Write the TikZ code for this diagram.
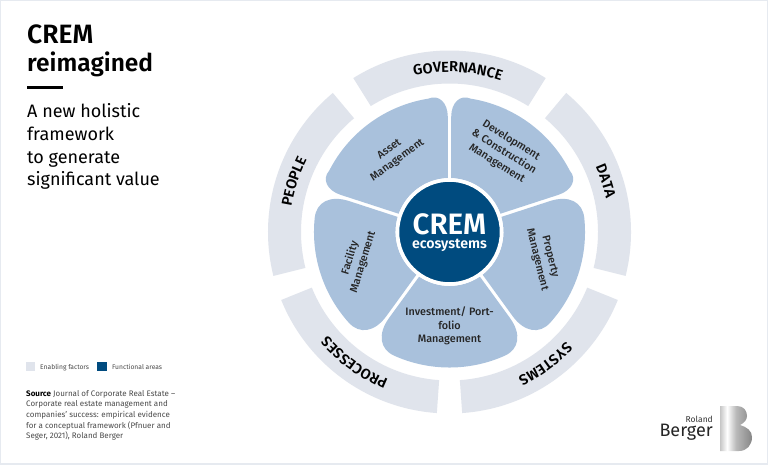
\documentclass[tikz,border=0pt]{standalone}
\usepackage{fontspec}
\setmainfont{Fira Sans}
\newfontfamily\medfont{Fira Sans Medium}
\newfontfamily\semifont{Fira Sans SemiBold}
\usetikzlibrary{decorations.text}
\definecolor{ringgray}{HTML}{E0E4EC}
\definecolor{petalblue}{HTML}{A9C1DC}
\definecolor{crelblue}{HTML}{004B7F}
\definecolor{edgegray}{HTML}{E6EAF0}
\definecolor{sourcegray}{HTML}{4A4A4A}
\pgfdeclarehorizontalshading{bshade}{100bp}{color(0bp)=(gray!45); color(25bp)=(gray!45); color(36bp)=(white); color(50bp)=(gray!55); color(75bp)=(gray!95); color(100bp)=(gray!95)}
\tikzset{
	ringseg/.style={fill=ringgray},
	petal/.style={fill=petalblue},
	petaltext/.style={align=center,font=\fontsize{10.8}{13.5}\selectfont\medfont,text=black!85},
	leftnote/.style={anchor=base west,inner sep=0pt},
	ringtext/.style={decorate,decoration={text along path,text align=center,text={|\fontsize{14.5}{15}\selectfont\semifont|#1}}}
}
\newcommand{\ringpart}[2]{\fill[ringseg] (#1:181.5) arc[start angle=#1,end angle=#2,radius=181.5] -- (#2:148.5) arc[start angle=#2,end angle=#1,radius=148.5] -- cycle;}
\newcommand{\lowpetal}[1]{\fill[petal,rotate=#1] (44.7,30.4) -- (85.9,60.4) .. controls (102.1,72.2) and (117.3,69.7) .. (123.8,55.1) arc[start angle=24,end angle=-24,radius=135.5] .. controls (117.3,-69.7) and (102.1,-72.2) .. (85.9,-60.4) -- (44.7,-30.4) arc[start angle=-34.2,end angle=34.2,radius=54] -- cycle;}
\newcommand{\highpetal}[1]{\fill[petal,rotate=#1] (44.7,30.4) -- (94,66.2) .. controls (106,75) and (118,72) .. (120.3,61.3) arc[start angle=27,end angle=-27,radius=135] .. controls (118,-72) and (106,-75) .. (94,-66.2) -- (44.7,-30.4) arc[start angle=-34.2,end angle=34.2,radius=54] -- cycle;}
\begin{document}
\begin{tikzpicture}[x=1pt,y=1pt]
	\useasboundingbox (0,0) rectangle (768,464);
	\fill[white] (0,0) rectangle (768,464);
	\draw[edgegray,line width=1.5pt] (0,0) rectangle (768,464);
	% ring and petals
	\begin{scope}[shift={(449.5,232)}]
		\ringpart{122}{58}
		\ringpart{50}{-14}
		\ringpart{-22}{-86}
		\ringpart{-94}{-158}
		\ringpart{194}{130}
		\path[ringtext=GOVERNANCE] (119:160) arc[start angle=119,end angle=55,radius=160];
		\path[ringtext=DATA] (50:160) arc[start angle=50,end angle=-14,radius=160];
		\path[ringtext=SYSTEMS] (-22:160) arc[start angle=-22,end angle=-86,radius=160];
		\path[ringtext=PROCESSES] (-94:160) arc[start angle=-94,end angle=-158,radius=160];
		\path[ringtext=PEOPLE] (194:160) arc[start angle=194,end angle=130,radius=160];
		\highpetal{126}
		\highpetal{54}
		\lowpetal{-18}
		\lowpetal{-90}
		\lowpetal{198}
		\node[circle,fill=crelblue,draw=white,line width=3.5pt,minimum size=104pt,inner sep=0pt] (hub) at (0,0) {};
		\node[text=white,font=\fontsize{29.5}{30}\selectfont\semifont,inner sep=0pt] (hubtop) at (0,8) {CREM};
		\node[text=white,font=\fontsize{14.2}{15}\selectfont\semifont,inner sep=0pt] (hubbottom) at (0,-13.5) {ecosystems};
		\node[petaltext,rotate=36] (asset) at (-56,77) {Asset\\Management};
		\node[petaltext,rotate=-32] (develop) at (54.5,80) {Development\\\& Construction\\Management};
		\node[petaltext,rotate=-76] (property) at (94,-26) {Property\\Management};
		\node[petaltext,rotate=73] (facility) at (-93,-28) {Facility\\Management};
		\node[petaltext] (invest) at (0,-94) {Investment/ Port-\\folio\\Management};
	\end{scope}
	% left column
	\node[leftnote,font=\fontsize{26.5}{27}\selectfont\semifont] (title) at (27,420) {CREM};
	\node[leftnote,font=\fontsize{24.5}{25}\selectfont\semifont] (titleb) at (27,392) {reimagined};
	\fill[black] (27,374.5) rectangle (63,377.5);
	\node[leftnote,font=\fontsize{18}{18}\selectfont] (suba) at (27,346) {A new holistic};
	\node[leftnote,font=\fontsize{18}{18}\selectfont] (subb) at (27,323) {framework};
	\node[leftnote,font=\fontsize{18}{18}\selectfont] (subc) at (27,300.5) {to generate};
	\node[leftnote,font=\fontsize{18}{18}\selectfont] (subd) at (27,278) {significant value};
	% legend
	\fill[ringgray] (26,93) rectangle (35,102);
	\node[leftnote,font=\fontsize{6.7}{7}\selectfont,text=sourcegray] (enabling) at (40,94.5) {Enabling factors};
	\fill[crelblue] (97,93) rectangle (107,102);
	\node[leftnote,font=\fontsize{6.7}{7}\selectfont,text=sourcegray] (functional) at (112,94.5) {Functional areas};
	\node[anchor=north west,inner sep=0pt,align=left,text=sourcegray,font=\fontsize{8}{10.6}\selectfont] (source) at (26,74) {\textcolor{black}{\bfseries Source} Journal of Corporate Real Estate --\\Corporate real estate management and\\companies' success: empirical evidence\\for a conceptual framework (Pfnuer and\\Seger, 2021), Roland Berger};
	% logo
	\node[anchor=base east,inner sep=0pt,font=\fontsize{8.5}{9}\selectfont,text=black!80] (roland) at (713,42) {Roland};
	\node[anchor=base east,inner sep=0pt,font=\fontsize{18}{18}\selectfont,text=black!85] (berger) at (713,27.5) {Berger};
	\shade[shading=bshade] (720,58) -- (737,58) .. controls (744,58) and (747,53) .. (747,48) .. controls (747,44) and (744,41) .. (740,39) .. controls (747,37) and (752,33) .. (752,27) .. controls (752,19) and (747,13) .. (739,13) -- (720,13) -- cycle;
\end{tikzpicture}
\end{document}
